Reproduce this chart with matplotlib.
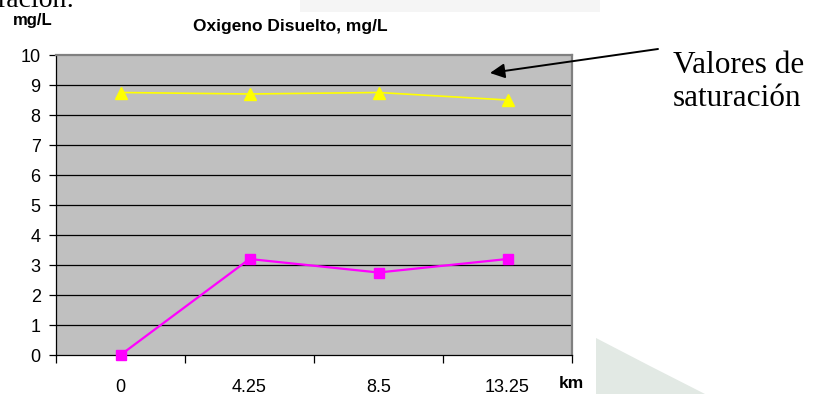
import numpy as np
import matplotlib.pyplot as plt
from matplotlib.patches import Polygon, Rectangle

km_labels = ["0", "4.25", "8.5", "13.25"]
od_medido = [0.0, 3.2, 2.75, 3.2]
od_saturacion = [8.75, 8.7, 8.75, 8.5]
y_ticks = list(range(0, 11))

W, H = 815, 394


def px(x, y):
    # pixel coords (origin top-left) -> figure fraction
    return x / W, 1 - y / H


fig = plt.figure(figsize=(W / 100, H / 100), dpi=100)
fig.patch.set_facecolor("white")

# faint background of the slide
fig.patches.append(Polygon([px(596, 338), px(596, 394), px(705, 394), px(650, 366)],
                           closed=True, transform=fig.transFigure,
                           facecolor="#e2e9e4", edgecolor="none", zorder=0))
fig.patches.append(Rectangle(px(300, 12), 300 / W, 12 / H, transform=fig.transFigure,
                             facecolor="#f5f5f5", edgecolor="none", zorder=0))

ax = fig.add_axes([56 / W, (H - 355) / H, (572 - 56) / W, (355 - 55) / H])
ax.set_facecolor("#c0c0c0")

x = np.arange(len(km_labels))
ax.plot(x, od_saturacion, color="#ffff00", lw=1.2, marker="^", ms=8.5, zorder=4)
ax.plot(x, od_medido, color="#ff00ff", lw=1.6, marker="s", ms=7.5, zorder=4,
        clip_on=False)

ax.set_xlim(-0.5, len(km_labels) - 0.5)
ax.set_ylim(0, 10)

# horizontal grid lines at each unit
for v in y_ticks[1:-1]:
    ax.axhline(v, color="black", lw=0.9, zorder=2)

ax.set_yticks(y_ticks)
ax.set_yticklabels([str(v) for v in y_ticks])
ax.tick_params(axis="y", length=5, width=0.9, pad=6, labelsize=13,
               direction="out", colors="black")

# category boundaries as ticks, labels centred between them
ax.set_xticks(np.arange(-0.5, len(km_labels)))
ax.set_xticklabels([])
ax.set_xticks(x, minor=True)
ax.set_xticklabels(km_labels, minor=True)
ax.tick_params(axis="x", which="major", length=6, width=0.9, direction="out")
ax.tick_params(axis="x", which="minor", length=0, pad=17, labelsize=13)

for lab in ax.get_yticklabels() + ax.get_xticklabels(minor=True):
    lab.set_family("Liberation Sans")

ax.spines["left"].set_color("black")
ax.spines["bottom"].set_color("black")
ax.spines["left"].set_linewidth(0.9)
ax.spines["bottom"].set_linewidth(0.9)
ax.spines["top"].set_color("#808080")
ax.spines["right"].set_color("#808080")
ax.spines["top"].set_linewidth(1.6)
ax.spines["right"].set_linewidth(1.6)

fig.text(*px(290, 27), "Oxigeno Disuelto, mg/L", ha="center", va="center",
         fontsize=12.5, fontweight="bold", family="Liberation Sans")
fig.text(*px(33, 21), "mg/L", ha="center", va="center",
         fontsize=12, fontweight="bold", family="Liberation Sans")
fig.text(*px(571, 384), "km", ha="center", va="center",
         fontsize=12.5, fontweight="bold", family="Liberation Sans")

fig.text(*px(-3, 7), "ración:", ha="left", va="baseline",
         fontsize=20, family="Liberation Serif")
fig.text(*px(673, 73), "Valores de", ha="left", va="baseline",
         fontsize=22.5, family="Liberation Serif")
fig.text(*px(673, 106), "saturación", ha="left", va="baseline",
         fontsize=22.5, family="Liberation Serif")

ax.annotate("", xy=px(490, 73), xycoords="figure fraction",
            xytext=px(658, 49), textcoords="figure fraction",
            arrowprops=dict(arrowstyle="-|>", color="black", lw=1.4,
                            mutation_scale=22, shrinkA=0, shrinkB=0),
            annotation_clip=False)

fig.savefig("out.png", dpi=100)
